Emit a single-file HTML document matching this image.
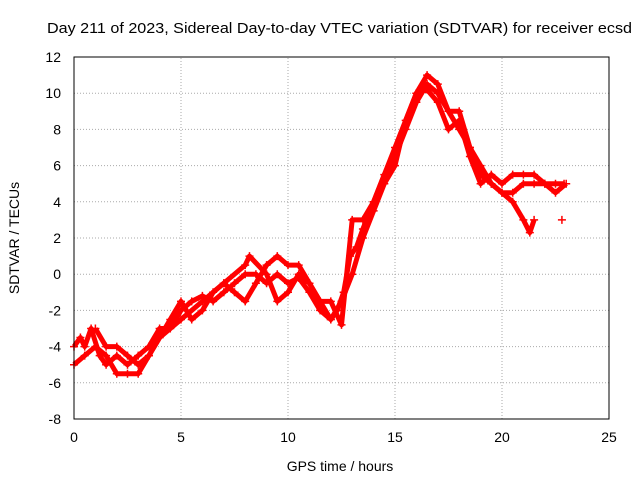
<!DOCTYPE html>
<html><head><meta charset="utf-8"><style>
body{margin:0;background:#fff;}
svg{display:block;font-family:"Liberation Sans",sans-serif;font-size:14px;}
</style></head><body>
<svg id="chart" width="640" height="480">
<text x="47" y="33" textLength="585" lengthAdjust="spacingAndGlyphs" style="font-size:15px">Day 211 of 2023, Sidereal Day-to-day VTEC variation (SDTVAR) for receiver ecsd</text>
<text x="340" y="471" text-anchor="middle">GPS time / hours</text>
<text transform="translate(19,238) rotate(-90)" text-anchor="middle">SDTVAR / TECUs</text>
<g id="grid"></g><g id="axes"></g><g id="series"></g>
<rect x="74" y="57" width="535" height="362" fill="none" stroke="#000"/>
</svg>
<script>
const xTicks=[0,5,10,15,20,25];
const yTicks=[-8,-6,-4,-2,0,2,4,6,8,10,12];
const t1=[0,0.3,0.5,0.8,1.2,1.5,2,2.5,3,3.5,4,4.5,5,5.5,6,6.5,7,7.5,8,8.5,9,9.5,10,10.5,11,11.5,12,12.3,12.6,12.9,13.2,13.5,14,14.5,15,15.5,16,16.5,17,17.5,18,18.5,19,19.5,20,20.5,21,21.5,22,22.5,22.9];
const v1=[-4,-3.5,-4,-3,-4.5,-5,-4.5,-5,-4.5,-4,-3,-3,-2,-1.5,-1.2,-1.5,-1,-0.5,0,0,-0.5,0,-0.5,-0.2,-1,-2,-2.5,-2,-1,1,1.5,2.5,4,5.5,6.5,8,9.5,10.5,10,9,8,7,6,5,4.5,4.5,5,5,5,5,5];
const t2=[0,0.5,1,1.5,2,2.5,3,3.5,4,4.5,5,5.5,6,6.5,7,7.5,8,8.5,9,9.5,10,10.5,11,11.5,12,12.5,13,13.5,14,14.5,15,15.5,16,16.5,17,17.5,18,18.5,19,19.5,20,20.5,21,21.3,21.5];
const v2=[-5,-4.5,-4,-4.5,-5.5,-5.5,-5.5,-4.5,-3.5,-2.5,-1.5,-2.5,-2,-1,-0.5,-1,-1.5,-0.5,0.5,1,0.5,0.5,-0.5,-1.5,-2.5,-1.5,0,2,3.5,5,6,8.5,10,11,10.5,9,9,7,5.5,5,4.5,4,3,2.3,3];
const t3=[1,1.5,2,2.5,3,3.5,4,5,6,7,8,8.2,9,9.5,10,10.5,11,11.5,12,12.5,13,13.5,14,15,16,16.5,17,17.5,18,18.5,19,19.5,20,20.5,21,21.5,22,22.5,23];
const v3=[-3,-4,-4,-4.5,-5,-4.5,-3.5,-2.5,-1.5,-0.5,0.5,1,0,-1.5,-1,0,-0.5,-1.5,-1.5,-2.8,3,3,4,7,10,10.2,9.5,8,8.5,6.5,5,5.5,5,5.5,5.5,5.5,5,4.5,5];
const t4=[22.8];
const v4=[3];
const X0=74,X1=609,Y0=419,Y1=57;
const xs=t=>X0+(t-0)/(25-0)*(X1-X0);
const ys=v=>Y0-(v+8)/20*(Y0-Y1);
const NS="http://www.w3.org/2000/svg";
const g=document.getElementById('grid'),ax=document.getElementById('axes'),sg=document.getElementById('series');
function mk(tag,attrs,parent){const e=document.createElementNS(NS,tag);for(const k in attrs)e.setAttribute(k,attrs[k]);parent.appendChild(e);return e;}
xTicks.forEach(t=>{const x=xs(t);
 if(t>0&&t<25){const l=mk('line',{x1:x,x2:x,y1:Y0,y2:Y1,stroke:'#aaa','stroke-dasharray':'1,2'},g);
 
 }
 const tx=mk('text',{x:x,y:Y0+23,'text-anchor':'middle'},ax);tx.textContent=t;
 
 
});
yTicks.forEach(v=>{const y=ys(v);
 if(v>-8&&v<12){const l=mk('line',{x1:X0,x2:X1,y1:y,y2:y,stroke:'#aaa','stroke-dasharray':'1,2'},g);
 
 }
 const tx=mk('text',{x:X0-13,y:y+5,'text-anchor':'end'},ax);tx.textContent=v;
 
 
});
[[t1,v1],[t2,v2],[t3,v3],[t4,v4]].forEach((s,i)=>{
 const [T,V]=s;
 const pts=T.map((t,j)=>xs(t)+','+ys(V[j])).join(' ');
 const pl=mk('polyline',{points:pts,fill:'none',stroke:'#f00','stroke-width':5,'stroke-linejoin':'round'},sg);
 
 
 T.forEach((t,j)=>{const x=xs(t),y=ys(V[j]);
  const p=mk('path',{d:`M${x-4},${y}H${x+4}M${x},${y-4}V${y+4}`,stroke:'#f00','stroke-width':1.5},sg);
  
  
 });
});
</script>
</body></html>
